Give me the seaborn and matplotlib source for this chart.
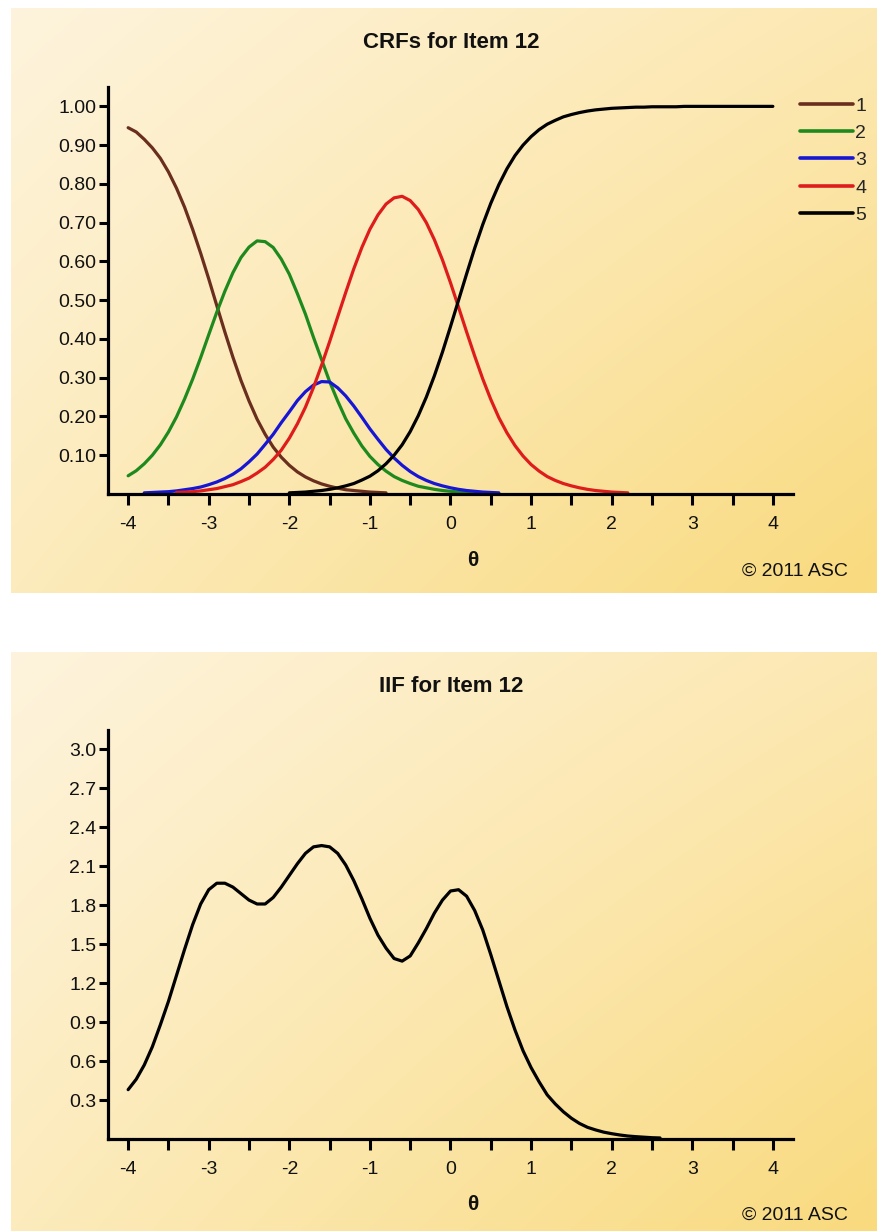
import numpy as np
import pandas as pd
import matplotlib
matplotlib.use("Agg")
import matplotlib.pyplot as plt
import seaborn as sns
from matplotlib.ticker import FixedLocator, MultipleLocator
from matplotlib.lines import Line2D

sns.set_style("ticks")
plt.rcParams['font.family'] = ['Liberation Sans', 'DejaVu Sans']

nan = np.nan

# ---------------- data (theta grid -4.0 .. 4.0 by 0.1) ----------------
theta = [-4.0, -3.9, -3.8, -3.7, -3.6, -3.5, -3.4, -3.3, -3.2, -3.1,
         -3.0, -2.9, -2.8, -2.7, -2.6, -2.5, -2.4, -2.3, -2.2, -2.1,
         -2.0, -1.9, -1.8, -1.7, -1.6, -1.5, -1.4, -1.3, -1.2, -1.1,
         -1.0, -0.9, -0.8, -0.7, -0.6, -0.5, -0.4, -0.3, -0.2, -0.1,
         0.0, 0.1, 0.2, 0.3, 0.4, 0.5, 0.6, 0.7, 0.8, 0.9,
         1.0, 1.1, 1.2, 1.3, 1.4, 1.5, 1.6, 1.7, 1.8, 1.9,
         2.0, 2.1, 2.2, 2.3, 2.4, 2.5, 2.6, 2.7, 2.8, 2.9,
         3.0, 3.1, 3.2, 3.3, 3.4, 3.5, 3.6, 3.7, 3.8, 3.9, 4.0]

cat_labels = ["1", "2", "3", "4", "5"]

crf_1 = [0.945, 0.934, 0.915, 0.893, 0.866, 0.831, 0.789, 0.740, 0.683, 0.621,
         0.555, 0.486, 0.418, 0.353, 0.293, 0.240, 0.193, 0.154, 0.121, 0.095,
         0.074, 0.057, 0.044, 0.034, 0.026, 0.020, 0.015, 0.011, 0.009, 0.007,
         0.005, 0.004, 0.003] + [nan] * 48

crf_2 = [0.047, 0.060, 0.078, 0.100, 0.127, 0.160, 0.199, 0.245, 0.296, 0.352,
         0.411, 0.469, 0.523, 0.571, 0.610, 0.637, 0.653, 0.651, 0.636, 0.606,
         0.567, 0.517, 0.464, 0.404, 0.347, 0.290, 0.240, 0.194, 0.157, 0.124,
         0.097, 0.076, 0.059, 0.045, 0.035, 0.027, 0.020, 0.016, 0.012, 0.009,
         0.007, 0.005, 0.004, 0.003, 0.002] + [nan] * 36

crf_3 = [nan] * 2 + [0.003, 0.004, 0.005, 0.006, 0.008, 0.011, 0.014, 0.018,
                     0.024, 0.031, 0.040, 0.051, 0.065, 0.083, 0.103, 0.128, 0.154, 0.184,
                     0.212, 0.241, 0.264, 0.281, 0.290, 0.289, 0.274, 0.253, 0.227, 0.198,
                     0.168, 0.141, 0.115, 0.093, 0.074, 0.058, 0.045, 0.035, 0.027, 0.021,
                     0.016, 0.012, 0.009, 0.007, 0.005, 0.004, 0.003] + [nan] * 34

crf_4 = [nan] * 6 + [0.004, 0.005, 0.006, 0.008,
                     0.011, 0.014, 0.019, 0.024, 0.032, 0.041, 0.054, 0.069, 0.089, 0.113,
                     0.144, 0.181, 0.224, 0.275, 0.332, 0.393, 0.457, 0.520, 0.581, 0.636,
                     0.683, 0.720, 0.748, 0.764, 0.768, 0.757, 0.734, 0.700, 0.656, 0.604,
                     0.545, 0.482, 0.418, 0.356, 0.297, 0.244, 0.197, 0.158, 0.125, 0.098,
                     0.076, 0.059, 0.045, 0.035, 0.027, 0.021, 0.016, 0.012, 0.009, 0.007,
                     0.005, 0.004, 0.003] + [nan] * 18

crf_5 = [nan] * 20 + [0.003, 0.004, 0.005, 0.007, 0.009, 0.012, 0.016, 0.021, 0.027, 0.036,
                      0.046, 0.060, 0.078, 0.100, 0.127, 0.161, 0.202, 0.250, 0.305, 0.366,
                      0.432, 0.500, 0.568, 0.634, 0.695, 0.750, 0.798, 0.839, 0.873, 0.900,
                      0.922, 0.940, 0.954, 0.964, 0.973, 0.979, 0.984, 0.988, 0.991, 0.993,
                      0.995, 0.996, 0.997, 0.998, 0.998, 0.999, 0.999, 0.999, 0.999, 1.000,
                      1.000, 1.000, 1.000, 1.000, 1.000, 1.000, 1.000, 1.000, 1.000, 1.000,
                      1.000]

iif = [0.38, 0.46, 0.57, 0.71, 0.88, 1.06, 1.26, 1.46, 1.65, 1.81,
       1.92, 1.97, 1.97, 1.94, 1.89, 1.84, 1.81, 1.81, 1.86, 1.94,
       2.03, 2.12, 2.20, 2.25, 2.26, 2.25, 2.20, 2.11, 1.99, 1.85,
       1.70, 1.57, 1.47, 1.39, 1.37, 1.41, 1.51, 1.62, 1.74, 1.84,
       1.91, 1.92, 1.87, 1.76, 1.61, 1.42, 1.22, 1.02, 0.84, 0.68,
       0.55, 0.44, 0.34, 0.27, 0.21, 0.16, 0.12, 0.09, 0.07, 0.053,
       0.041, 0.031, 0.023, 0.018, 0.014, 0.010, 0.008] + [nan] * 14

crf_ticks = [0.10, 0.20, 0.30, 0.40, 0.50, 0.60, 0.70, 0.80, 0.90, 1.00]
iif_ticks = [0.3, 0.6, 0.9, 1.2, 1.5, 1.8, 2.1, 2.4, 2.7, 3.0]
x_ticks = [-4, -3, -2, -1, 0, 1, 2, 3, 4]

colors = {"1": "#6a2e1e", "2": "#1e8a1e", "3": "#1616d4", "4": "#de1c1c", "5": "#000000"}

# ---------------- tables ----------------
rows = []
for lab, vals in zip(cat_labels, [crf_1, crf_2, crf_3, crf_4, crf_5]):
    for t, v in zip(theta, vals):
        if not np.isnan(v):
            rows.append({"theta": t, "prob": v, "cat": lab})
crf_df = pd.DataFrame(rows)
iif_df = pd.DataFrame({"theta": theta, "info": iif}).dropna()

# ---------------- figure ----------------
W, H = 878, 1231
fig = plt.figure(figsize=(W / 100, H / 100), dpi=100)
fig.patch.set_facecolor("white")


def fx(px):
    return px / W


def fy(py):
    return 1 - py / H


def gradient_panel(y_top, y_bot):
    axb = fig.add_axes([fx(11), fy(y_bot), fx(W - 11), (y_bot - y_top) / H], zorder=0)
    n = 200
    u = np.linspace(0, 1, n)[None, :, None]
    v = np.linspace(0, 1, n)[:, None, None]
    tl = np.array([254, 244, 221]) / 255
    tr = np.array([252, 232, 178]) / 255
    bl = np.array([252, 235, 188]) / 255
    br = np.array([249, 218, 126]) / 255
    img = ((1 - u) * (1 - v) * tl + u * (1 - v) * tr
           + (1 - u) * v * bl + u * v * br)
    axb.imshow(img, aspect="auto", extent=[0, 1, 0, 1], origin="upper", interpolation="bilinear")
    axb.set_axis_off()


gradient_panel(8, 593)
gradient_panel(652, 1231)


def style_axis(ax, yticks, fmt, ylim):
    ax.set_facecolor("none")
    ax.set_xlim(-4.25, 4.25)
    ax.set_ylim(*ylim)
    for s in ["top", "right"]:
        ax.spines[s].set_visible(False)
    for s in ["left", "bottom"]:
        ax.spines[s].set_linewidth(2.3)
        ax.spines[s].set_color("black")
    ax.xaxis.set_major_locator(FixedLocator(x_ticks))
    ax.xaxis.set_minor_locator(MultipleLocator(0.5))
    ax.set_xticklabels([str(t) for t in x_ticks])
    ax.yaxis.set_major_locator(FixedLocator(yticks))
    ax.set_yticklabels([fmt.format(t) for t in yticks])
    ax.tick_params(axis="x", which="both", direction="out", length=8, width=2.2,
                   color="black", pad=8, labelsize=14, labelcolor="#111111")
    ax.tick_params(axis="y", which="major", direction="out", length=6.5, width=2.2,
                   color="black", pad=2, labelsize=14, labelcolor="#111111")
    ax.tick_params(axis="y", which="minor", left=False)
    ax.set_xlabel("")
    ax.set_ylabel("")


# ---- top: CRFs ----
ax1 = fig.add_axes([fx(108), fy(494), fx(793 - 108), (494 - 87) / H], zorder=2)
sns.lineplot(data=crf_df, x="theta", y="prob", hue="cat", palette=colors,
             hue_order=cat_labels, estimator=None, sort=True, linewidth=2.3,
             ax=ax1, legend=False)
style_axis(ax1, crf_ticks, "{:.2f}", (0, 1.05))

handles = [Line2D([], [], color=colors[c], linewidth=2.6) for c in cat_labels]
fig.legend(handles, cat_labels, loc="upper left", bbox_to_anchor=(fx(800), fy(97)),
           frameon=False, fontsize=14, handlelength=2.75, handletextpad=0.1,
           labelspacing=0.5, borderpad=0, borderaxespad=0)

fig.text(fx(451), fy(43), "CRFs for Item 12", ha="center", va="center",
         fontsize=16, fontweight="bold", color="#111111")
fig.text(fx(473), fy(561), "θ", ha="center", va="center", fontsize=15,
         fontweight="bold", color="#111111")
fig.text(fx(848), fy(571), "© 2011 ASC", ha="right", va="center", fontsize=14,
         color="#111111")

# ---- bottom: IIF ----
ax2 = fig.add_axes([fx(108), fy(1139), fx(793 - 108), (1139 - 730) / H], zorder=2)
sns.lineplot(data=iif_df, x="theta", y="info", color="black", estimator=None,
             sort=True, linewidth=2.3, ax=ax2)
style_axis(ax2, iif_ticks, "{:.1f}", (0, 3.15))

fig.text(fx(451), fy(687), "IIF for Item 12", ha="center", va="center",
         fontsize=16, fontweight="bold", color="#111111")
fig.text(fx(473), fy(1205), "θ", ha="center", va="center", fontsize=15,
         fontweight="bold", color="#111111")
fig.text(fx(848), fy(1215), "© 2011 ASC", ha="right", va="center", fontsize=14,
         color="#111111")

fig.savefig("out.png", dpi=100)
